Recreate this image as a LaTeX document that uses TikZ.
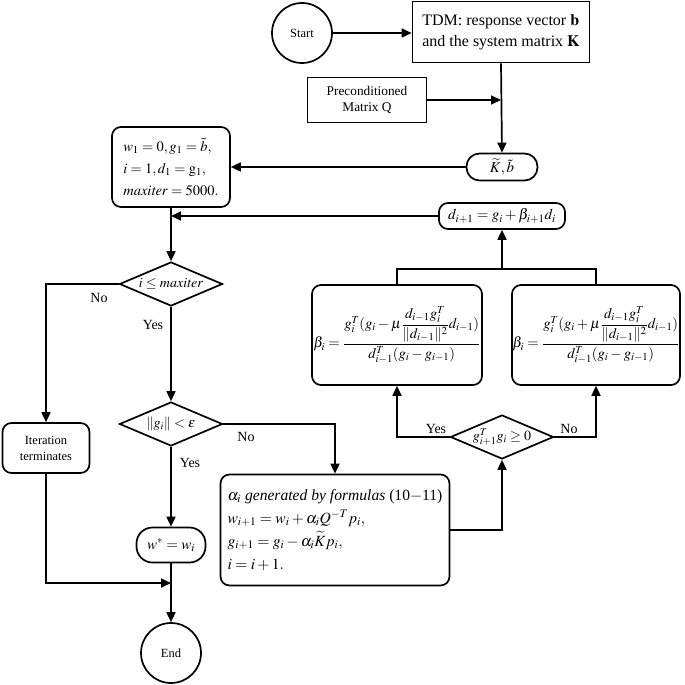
\documentclass[tikz,border=0pt]{standalone}
\usepackage{amsmath}
\usepackage{mathptmx}
\usepackage{fontspec}
\setmainfont{Liberation Serif}
\usetikzlibrary{shapes.geometric,arrows.meta,calc}
\begin{document}
\begin{tikzpicture}[x=1pt,y=-1pt,
  every node/.style={inner sep=2pt, font=\fontsize{12}{14}\selectfont},
  ln/.style={line width=1.7pt},
  arr/.style={ln,-{Triangle[length=10pt,width=9pt]}},
  circ/.style={circle,draw,line width=1.7pt,minimum size=60pt,font=\fontsize{12.5}{14}\selectfont},
  sqbox/.style={rectangle,draw,line width=1.7pt},
  rbox/.style={rectangle,draw,line width=1.7pt,rounded corners=9pt},
  pill/.style={rectangle,draw,line width=1.7pt,rounded corners=13pt},
  dia/.style={diamond,draw,line width=1.7pt,minimum width=103pt,minimum height=44pt,inner sep=0pt,aspect=2.3,font=\fontsize{14}{16}\selectfont},
  lab/.style={font=\fontsize{14}{16}\selectfont}
]
\useasboundingbox (0,0) rectangle (685,685);
\node[circ] (start) at (302,33) {Start};
\node[sqbox,minimum width=177pt,minimum height=61pt,align=left,font=\fontsize{16}{21}\selectfont] (tdm) at (501,32) {TDM: response vector $\mathbf{b}$\\and the system matrix $\mathbf{K}$};
\node[sqbox,minimum width=119pt,minimum height=45pt,align=center,font=\fontsize{13.3}{16}\selectfont] (pre) at (367,100) {Preconditioned\\Matrix Q};
\node[pill,minimum width=71pt,minimum height=27pt,font=\fontsize{15}{18}\selectfont] (kb) at (502,167) {$\widetilde{K},\tilde{b}$};
\node[rbox,minimum width=118pt,minimum height=80pt,align=left,inner xsep=4pt,font=\fontsize{14.5}{22}\selectfont] (w1) at (171,167) {$w_1=0, g_1=\tilde{b},$\\$i=1, d_1=\mathrm{g}_1,$\\$\mathit{maxiter}=5000.$};
\node[rbox,minimum width=126pt,minimum height=26pt,font=\fontsize{15}{17}\selectfont] (dn) at (502,216) {$d_{i+1}=g_i+\beta_{i+1}d_i$};
\node[rbox,minimum width=170pt,minimum height=100pt,inner sep=0pt,font=\fontsize{14.6}{17}\selectfont] (bl) at (397,335) {$\displaystyle\beta_i=\frac{g_i^T(g_i-\mu\dfrac{d_{i-1}g_i^T}{\|d_{i-1}\|^2}d_{i-1})}{d_{i-1}^T(g_i-g_{i-1})}$};
\node[rbox,minimum width=168pt,minimum height=100pt,inner sep=0pt,font=\fontsize{14.6}{17}\selectfont] (br) at (596,335) {$\displaystyle\beta_i=\frac{g_i^T(g_i+\mu\dfrac{d_{i-1}g_i^T}{\|d_{i-1}\|^2}d_{i-1})}{d_{i-1}^T(g_i-g_{i-1})}$};
\node[dia] (d1) at (171,284) {$i\le \mathit{maxiter}$};
\node[dia] (d2) at (171,424) {$\|g_i\|<\varepsilon$};
\node[dia] (d3) at (502,437) {$g_{i+1}^Tg_i\ge 0$};
\node[rbox,minimum width=229pt,minimum height=111pt,align=left,inner xsep=5pt,font=\fontsize{15.6}{23}\selectfont] (al) at (335,530) {$\alpha_i$ \textit{generated by formulas} (10$-$11)\\$w_{i+1}=w_i+\alpha_iQ^{-T}p_i,$\\$g_{i+1}=g_i-\alpha_i\widetilde{K}p_i,$\\$i=i+1.$};
\node[rbox,minimum width=87pt,minimum height=50pt,align=center,font=\fontsize{12.5}{16}\selectfont] (it) at (46,448) {Iteration\\terminates};
\node[pill,minimum width=69pt,minimum height=35pt,rounded corners=16pt,font=\fontsize{15}{17}\selectfont] (ws) at (171,545) {$w^*=w_i$};
\node[circ] (end) at (171,653) {End};
% connectors
\draw[arr] (start) -- (tdm.west |- start);
\coordinate (m) at (tdm.south |- pre.east);
\draw[arr] (pre.east) -- (m);
\draw[arr] (tdm.south) -- (kb.north);
\draw[arr] (kb.west) -- (w1.east);
\coordinate (j1) at (w1.south |- dn.west);
\draw[arr] (dn.west) -- (j1);
\draw[arr] (w1.south) -- (d1.north);
\coordinate (jn) at (502,269);
\draw[ln] (bl.north) |- (jn) -| (br.north);
\draw[arr] (jn) -- (dn.south);
\draw[arr] (d1.west) -| (it.north);
\draw[arr] (d1.south) -- (d2.north);
\draw[arr] (d2.east) -| (al.north);
\draw[arr] (d2.south) -- (ws.north);
\draw[arr] (ws.south) -- (end.north);
\coordinate (j2) at (ws.south |- 0,583);
\draw[arr] (it.south) |- (j2);
\draw[arr] (al.east) -| (d3.south);
\draw[arr] (d3.west) -| (bl.south);
\draw[arr] (d3.east) -| (br.south);
% labels
\node[lab] (nol) at (99,298) {No};
\node[lab] (yesl) at (153,325) {Yes};
\node[lab] (no2) at (246,437) {No};
\node[lab] (yes2) at (190,463) {Yes};
\node[lab] (yes3) at (436,429) {Yes};
\node[lab] (no3) at (569,429) {No};
\end{tikzpicture}
\end{document}
